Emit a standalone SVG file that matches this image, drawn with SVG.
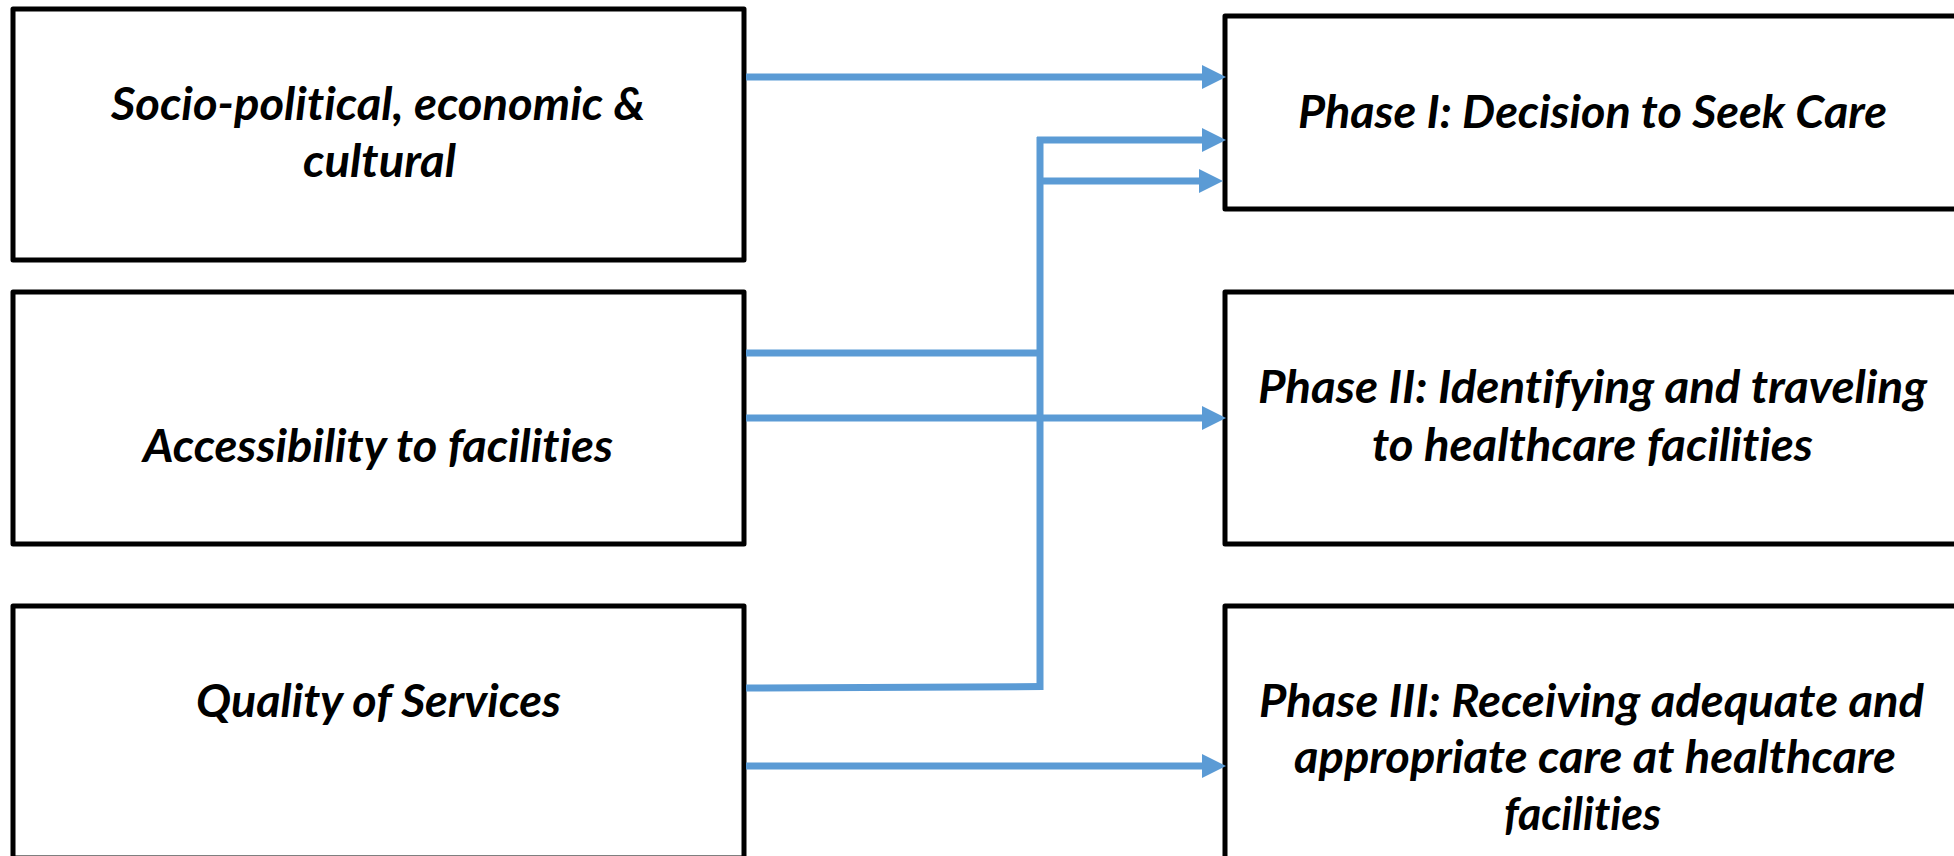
<svg xmlns="http://www.w3.org/2000/svg" width="1954" height="856" viewBox="0 0 1954 856">
<style>
.box{fill:#fff;stroke:#000;stroke-width:5;stroke-linejoin:round}
.t{font-family:Lato,"Liberation Sans",sans-serif;font-weight:bold;font-style:italic;font-size:46px;fill:#000;font-variant-ligatures:none}
.c{fill:none;stroke:#5B9BD5;stroke-width:7}
</style>
<defs>
<marker id="ah" markerUnits="userSpaceOnUse" viewBox="0 0 24 24" markerWidth="24" markerHeight="24" refX="0" refY="12" orient="auto">
<path d="M0,0 L24,12 L0,24 z" fill="#5B9BD5"/>
</marker>
</defs>
<rect width="1954" height="856" fill="#fff"/>
<g id="n-socio">
<rect class="box" x="13" y="9" width="731" height="251"/>
<text class="t" x="111" y="120" textLength="534" lengthAdjust="spacingAndGlyphs">Socio-political, economic &amp;</text>
<text class="t" x="303" y="177" textLength="153" lengthAdjust="spacingAndGlyphs">cultural</text>
</g>
<g id="n-access">
<rect class="box" x="13" y="292" width="731" height="252"/>
<text class="t" x="143" y="462" textLength="470" lengthAdjust="spacingAndGlyphs">Accessibility to facilities</text>
</g>
<g id="n-quality">
<rect class="box" x="13" y="606" width="731" height="252"/>
<text class="t" x="196" y="717" textLength="365" lengthAdjust="spacingAndGlyphs">Quality of Services</text>
</g>
<g id="n-phase1">
<rect class="box" x="1225" y="16" width="800" height="193"/>
<text class="t" x="1298" y="128" textLength="589" lengthAdjust="spacingAndGlyphs">Phase I: Decision to Seek Care</text>
</g>
<g id="n-phase2">
<rect class="box" x="1225" y="292" width="800" height="252"/>
<text class="t" x="1258" y="403" textLength="669" lengthAdjust="spacingAndGlyphs">Phase II: Identifying and traveling</text>
<text class="t" x="1372" y="461" textLength="441" lengthAdjust="spacingAndGlyphs">to healthcare facilities</text>
</g>
<g id="n-phase3">
<rect class="box" x="1225" y="606" width="800" height="260"/>
<text class="t" x="1259" y="717" textLength="665" lengthAdjust="spacingAndGlyphs">Phase III: Receiving adequate and</text>
<text class="t" x="1294" y="773" textLength="602" lengthAdjust="spacingAndGlyphs">appropriate care at healthcare</text>
<text class="t" x="1504" y="830" textLength="157" lengthAdjust="spacingAndGlyphs">facilities</text>
</g>
<g id="connectors">
<line class="c" x1="746" y1="77" x2="1202" y2="77" marker-end="url(#ah)"/>
<line class="c" x1="1040" y1="137" x2="1040" y2="690"/>
<line class="c" x1="1037" y1="140" x2="1202" y2="140" marker-end="url(#ah)"/>
<line class="c" x1="1040" y1="181" x2="1199" y2="181" marker-end="url(#ah)"/>
<line class="c" x1="746" y1="353" x2="1040" y2="353"/>
<line class="c" x1="746" y1="418" x2="1202" y2="418" marker-end="url(#ah)"/>
<line class="c" x1="746" y1="688" x2="1043" y2="686.5"/>
<line class="c" x1="746" y1="766" x2="1202" y2="766" marker-end="url(#ah)"/>
</g>
</svg>
